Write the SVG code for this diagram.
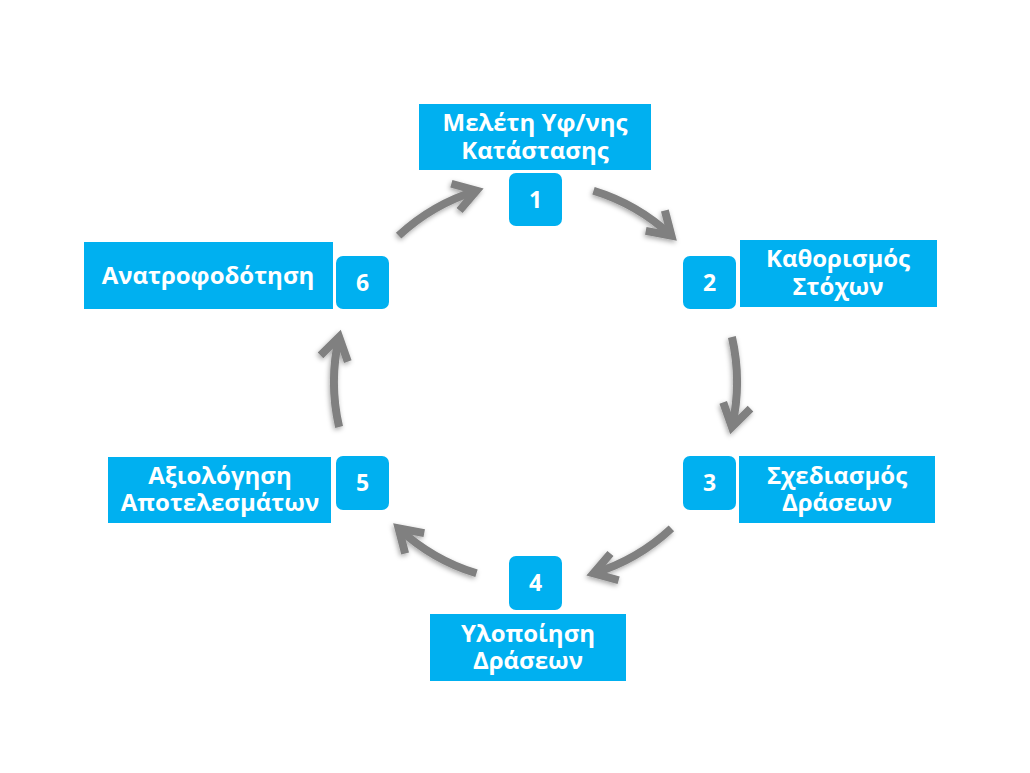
<svg xmlns="http://www.w3.org/2000/svg" width="1030" height="773" viewBox="0 0 1030 773">
  <style>
    .box { fill: #00B0F0; }
    .num { fill: #00B0F0; }
    .lbl { font-family: "Open Sans", "Noto Sans", "DejaVu Sans", sans-serif; font-weight: bold; font-size: 24px; fill: #FFFFFF; text-anchor: middle; }
    .dig { font-family: "Open Sans", "Noto Sans", "DejaVu Sans", sans-serif; font-weight: bold; font-size: 23px; fill: #FFFFFF; text-anchor: middle; }
    .arc { fill: none; stroke: #808080; stroke-width: 8; marker-end: url(#head); filter: url(#sh); }
  </style>
  <defs>
    <marker id="head" markerUnits="userSpaceOnUse" markerWidth="60" markerHeight="60" refX="0" refY="0" viewBox="-30 -30 60 60" orient="auto" overflow="visible">
      <path d="M-22,-14 L0,0 L-22,14" fill="none" stroke="#808080" stroke-width="8" stroke-linejoin="miter"/>
    </marker>
    <filter id="sh" filterUnits="userSpaceOnUse" x="0" y="0" width="1030" height="773">
      <feDropShadow dx="-1" dy="2" stdDeviation="2.5" flood-color="#000000" flood-opacity="0.35"/>
    </filter>
  </defs>
  <rect width="1030" height="773" fill="#FFFFFF"/>

  <g id="connectors">
    <path class="arc" d="M593.5,190.7 A200,200 0 0 1 671.4,235.7"/>
    <path class="arc" d="M731.9,337 A200,200 0 0 1 731.9,427"/>
    <path class="arc" d="M671.4,528.3 A200,200 0 0 1 593.5,573.3"/>
    <path class="arc" d="M476.5,573.3 A200,200 0 0 1 398.6,528.3"/>
    <path class="arc" d="M339.1,427 A200,200 0 0 1 339.1,337"/>
    <path class="arc" d="M398.6,235.7 A200,200 0 0 1 476.5,190.7"/>
  </g>

  <g id="node1">
    <rect class="box" x="419" y="104" width="232" height="66"/>
    <text class="lbl" x="535" y="131">Μελέτη Υφ/νης</text>
    <text class="lbl" x="535" y="159">Κατάστασης</text>
    <rect class="num" x="509" y="173" width="53" height="53" rx="7"/>
    <text class="dig" x="535.5" y="208">1</text>
  </g>

  <g id="node2">
    <rect class="box" x="740" y="240" width="197" height="67"/>
    <text class="lbl" x="838" y="267">Καθορισμός</text>
    <text class="lbl" x="838" y="295">Στόχων</text>
    <rect class="num" x="683" y="256" width="53" height="53" rx="7"/>
    <text class="dig" x="709.5" y="291">2</text>
  </g>

  <g id="node3">
    <rect class="box" x="739" y="456" width="196" height="67"/>
    <text class="lbl" x="837" y="484">Σχεδιασμός</text>
    <text class="lbl" x="837" y="511">Δράσεων</text>
    <rect class="num" x="683" y="456" width="53" height="54" rx="7"/>
    <text class="dig" x="709.5" y="491">3</text>
  </g>

  <g id="node4">
    <rect class="num" x="509" y="556" width="53" height="54" rx="7"/>
    <text class="dig" x="535.5" y="591">4</text>
    <rect class="box" x="430" y="614" width="196" height="67"/>
    <text class="lbl" x="528" y="642">Υλοποίηση</text>
    <text class="lbl" x="528" y="669">Δράσεων</text>
  </g>

  <g id="node5">
    <rect class="box" x="108" y="457" width="223" height="66"/>
    <text class="lbl" x="220" y="484">Αξιολόγηση</text>
    <text class="lbl" x="220" y="511">Αποτελεσμάτων</text>
    <rect class="num" x="336" y="456" width="53" height="54" rx="7"/>
    <text class="dig" x="362.5" y="491">5</text>
  </g>

  <g id="node6">
    <rect class="box" x="84" y="242" width="249" height="67"/>
    <text class="lbl" x="208" y="284">Ανατροφοδότηση</text>
    <rect class="num" x="336" y="256" width="53" height="53" rx="7"/>
    <text class="dig" x="362.5" y="291">6</text>
  </g>
</svg>
